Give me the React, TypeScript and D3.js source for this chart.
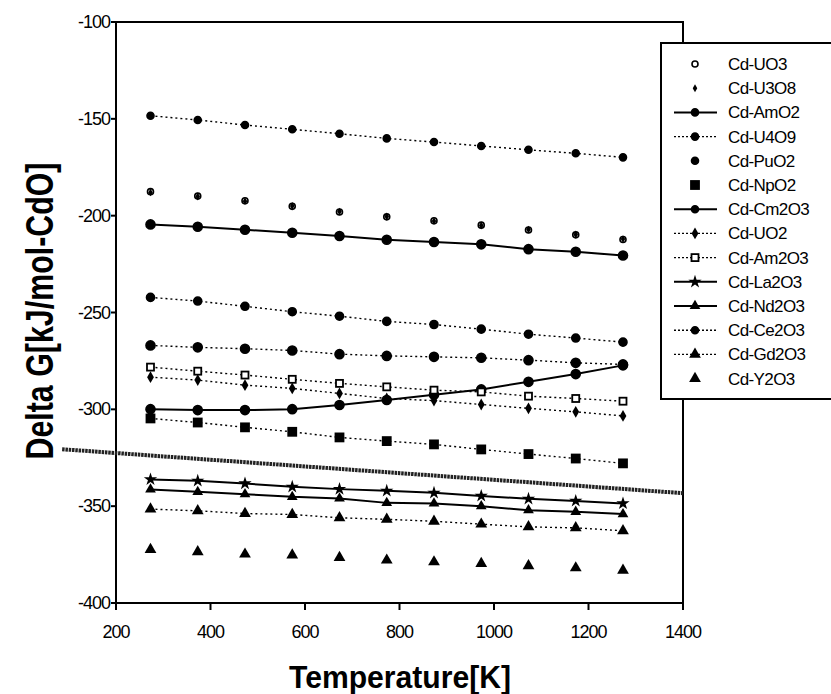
import React, { useEffect, useRef } from 'react';
import * as d3 from 'd3';

// temperatures (K) at which each system was evaluated
const temps = [273, 373, 473, 573, 673, 773, 873, 973, 1073, 1173, 1273];

// Delta G values (kJ/mol-CdO)
const cdUO3 = [-187.6, -189.9, -192.3, -195.2, -198.1, -200.6, -202.6, -204.9, -207.4, -209.9, -212.3];
const cdU3O8 = [-188.0, -190.1, -192.5, -195.0, -197.9, -200.4, -202.8, -205.1, -207.2, -209.7, -212.1];
const cdAmO2 = [-204.5, -205.7, -207.3, -208.8, -210.5, -212.4, -213.6, -214.8, -217.3, -218.6, -220.6];
const cdU4O9 = [-148.4, -150.6, -153.2, -155.4, -157.7, -160.1, -162.0, -164.0, -166.0, -167.8, -169.9];
const cdPuO2 = [-267.0, -268.0, -268.7, -269.6, -271.5, -272.4, -272.9, -273.4, -274.6, -276.0, -276.8];
const cdNpO2 = [-304.7, -306.8, -309.3, -311.6, -314.5, -316.4, -318.1, -320.7, -323.1, -325.4, -327.9];
const cdCm2O3 = [-299.9, -300.4, -300.4, -299.9, -297.8, -295.2, -292.5, -289.7, -285.8, -281.8, -277.3];
const cdUO2 = [-283.4, -284.9, -287.5, -289.2, -291.8, -294.4, -295.5, -297.5, -299.5, -301.3, -303.4];
const cdAm2O3 = [-278.2, -280.3, -282.3, -284.5, -286.6, -288.4, -290.1, -291.0, -293.2, -294.4, -295.8];
const cdLa2O3 = [-336.2, -336.9, -338.3, -340.0, -341.2, -342.1, -343.1, -344.7, -346.2, -347.3, -348.6];
const cdNd2O3 = [-341.4, -342.6, -343.8, -345.2, -346.0, -348.3, -348.6, -350.0, -352.1, -352.9, -354.1];
const cdCe2O3 = [-242.2, -244.1, -246.8, -249.6, -251.9, -254.6, -256.2, -258.6, -261.2, -263.2, -265.3];
const cdGd2O3 = [-351.5, -352.4, -353.8, -354.3, -356.0, -356.8, -357.8, -359.3, -360.7, -361.2, -362.7];
const cdY2O3 = [-372.4, -373.6, -374.8, -375.3, -376.5, -377.9, -378.8, -379.6, -380.8, -381.9, -383.1];

// thick reference line running across the whole plot
const refTemps = [86, 1400];
const refValues = [-320.6, -343.3];

const xTicks = [200, 400, 600, 800, 1000, 1200, 1400];
const yTicks = [-100, -150, -200, -250, -300, -350, -400];

type Series = {
  name: string;
  values: number[];
  line: 'none' | 'solid' | 'dotted';
  legendLine?: boolean;
  marker: 'circle' | 'ocircle' | 'square' | 'osquare' | 'diamond' | 'triangle' | 'star';
  size: number;
};

const series: Series[] = [
  { name: 'Cd-UO3', values: cdUO3, line: 'none', marker: 'ocircle', size: 3 },
  { name: 'Cd-U3O8', values: cdU3O8, line: 'none', marker: 'diamond', size: 18 },
  { name: 'Cd-AmO2', values: cdAmO2, line: 'solid', marker: 'circle', size: 4.5 },
  { name: 'Cd-U4O9', values: cdU4O9, line: 'dotted', marker: 'circle', size: 3.5 },
  { name: 'Cd-PuO2', values: cdPuO2, line: 'dotted', legendLine: false, marker: 'circle', size: 4.5 },
  { name: 'Cd-NpO2', values: cdNpO2, line: 'dotted', legendLine: false, marker: 'square', size: 8 },
  { name: 'Cd-Cm2O3', values: cdCm2O3, line: 'solid', marker: 'circle', size: 4.5 },
  { name: 'Cd-UO2', values: cdUO2, line: 'dotted', marker: 'diamond', size: 40 },
  { name: 'Cd-Am2O3', values: cdAm2O3, line: 'dotted', marker: 'osquare', size: 7 },
  { name: 'Cd-La2O3', values: cdLa2O3, line: 'solid', marker: 'star', size: 55 },
  { name: 'Cd-Nd2O3', values: cdNd2O3, line: 'solid', marker: 'triangle', size: 50 },
  { name: 'Cd-Ce2O3', values: cdCe2O3, line: 'dotted', marker: 'circle', size: 4 },
  { name: 'Cd-Gd2O3', values: cdGd2O3, line: 'dotted', marker: 'triangle', size: 60 },
  { name: 'Cd-Y2O3', values: cdY2O3, line: 'none', marker: 'triangle', size: 60 },
];

function drawMarker(g: any, m: Series['marker'], size: number, cx: number, cy: number) {
  if (m === 'circle' || m === 'ocircle') {
    g.append('circle')
      .attr('cx', cx).attr('cy', cy).attr('r', size)
      .attr('fill', m === 'circle' ? '#000' : '#fff')
      .attr('stroke', '#000').attr('stroke-width', 1.6);
  } else if (m === 'square' || m === 'osquare') {
    g.append('rect')
      .attr('x', cx - size / 2).attr('y', cy - size / 2)
      .attr('width', size).attr('height', size)
      .attr('fill', m === 'square' ? '#000' : '#fff')
      .attr('stroke', '#000').attr('stroke-width', 1.8);
  } else {
    const type = m === 'diamond' ? d3.symbolDiamond : m === 'star' ? d3.symbolStar : d3.symbolTriangle;
    g.append('path')
      .attr('transform', `translate(${cx},${cy})`)
      .attr('d', d3.symbol().type(type).size(size)())
      .attr('fill', '#000');
  }
}

export default function App() {
  const svgRef = useRef<SVGSVGElement>(null);

  useEffect(() => {
    if (!svgRef.current) return;
    const svg = d3.select(svgRef.current);
    svg.selectAll('*').remove();

    const xScale = d3.scaleLinear().domain([200, 1400]).range([116, 683]);
    const yScale = d3.scaleLinear().domain([-400, -100]).range([603, 22]);
    const font = 'Arial, "Liberation Sans", sans-serif';

    // Frame
    svg.append('rect')
      .attr('x', 116).attr('y', 22)
      .attr('width', 567).attr('height', 581)
      .attr('fill', 'none').attr('stroke', '#000').attr('stroke-width', 2);

    // Ticks + labels
    xTicks.forEach(t => {
      svg.append('line')
        .attr('x1', xScale(t)).attr('x2', xScale(t))
        .attr('y1', 603).attr('y2', 610)
        .attr('stroke', '#000').attr('stroke-width', 2);
      svg.append('text')
        .attr('x', xScale(t)).attr('y', 638)
        .attr('text-anchor', 'middle')
        .style('font-family', font).style('font-size', '18px')
        .style('letter-spacing', '-1px')
        .text(t);
    });
    yTicks.forEach(t => {
      svg.append('line')
        .attr('x1', 111).attr('x2', 116)
        .attr('y1', yScale(t)).attr('y2', yScale(t))
        .attr('stroke', '#000').attr('stroke-width', 2);
      svg.append('text')
        .attr('x', 110).attr('y', yScale(t) + 6)
        .attr('text-anchor', 'end')
        .style('font-family', font).style('font-size', '18px')
        .style('letter-spacing', '-1px')
        .text(t);
    });

    // Axis titles
    svg.append('text')
      .attr('x', 400).attr('y', 688)
      .attr('text-anchor', 'middle')
      .attr('textLength', 222).attr('lengthAdjust', 'spacingAndGlyphs')
      .style('font-family', font).style('font-size', '32px').style('font-weight', 'bold')
      .text('Temperature[K]');

    svg.append('text')
      .attr('transform', 'translate(53,311) rotate(-90)')
      .attr('text-anchor', 'middle')
      .attr('textLength', 297).attr('lengthAdjust', 'spacingAndGlyphs')
      .style('font-family', font).style('font-size', '38px').style('font-weight', 'bold')
      .text('Delta G[kJ/mol-CdO]');

    // Thick reference line
    const refPts = refTemps.map((t, i) => [xScale(t), yScale(refValues[i])] as [number, number]);
    svg.append('path')
      .attr('d', d3.line()(refPts))
      .attr('stroke', '#222').attr('stroke-width', 4)
      .attr('stroke-dasharray', '2.5,0.8')
      .attr('fill', 'none');

    const line = d3.line<number>()
      .x((_, i) => xScale(temps[i]))
      .y(d => yScale(d));

    series.forEach(s => {
      if (s.line !== 'none') {
        svg.append('path')
          .datum(s.values)
          .attr('d', line)
          .attr('fill', 'none')
          .attr('stroke', '#000')
          .attr('stroke-width', s.line === 'solid' ? 2 : 1.4)
          .attr('stroke-dasharray', s.line === 'dotted' ? '2,3' : null);
      }
      const g = svg.append('g');
      s.values.forEach((v, i) => drawMarker(g, s.marker, s.size, xScale(temps[i]), yScale(v)));
    });

    // Legend
    const lg = svg.append('g');
    lg.append('rect')
      .attr('x', 661).attr('y', 43)
      .attr('width', 200).attr('height', 356)
      .attr('fill', '#fff').attr('stroke', '#000').attr('stroke-width', 2);

    series.forEach((s, i) => {
      const cy = 64 + i * 24.2;
      if (s.line !== 'none' && s.legendLine !== false) {
        lg.append('line')
          .attr('x1', 674).attr('x2', 717)
          .attr('y1', cy).attr('y2', cy)
          .attr('stroke', '#000')
          .attr('stroke-width', s.line === 'solid' ? 2 : 1.4)
          .attr('stroke-dasharray', s.line === 'dotted' ? '2,2' : null);
      }
      drawMarker(lg, s.marker, s.marker === 'circle' || s.marker === 'ocircle' ? Math.min(s.size, 3.5) : s.size, 695, cy);
      lg.append('text')
        .attr('x', 728).attr('y', cy + 6)
        .style('font-family', font).style('font-size', '17px')
        .style('letter-spacing', '-0.6px')
        .text(s.name);
    });
  }, []);

  return (
    <svg
      ref={svgRef}
      width={831}
      height={694}
      style={{ position: 'absolute', left: 0, top: 0, background: '#fff' }}
    />
  );
}
